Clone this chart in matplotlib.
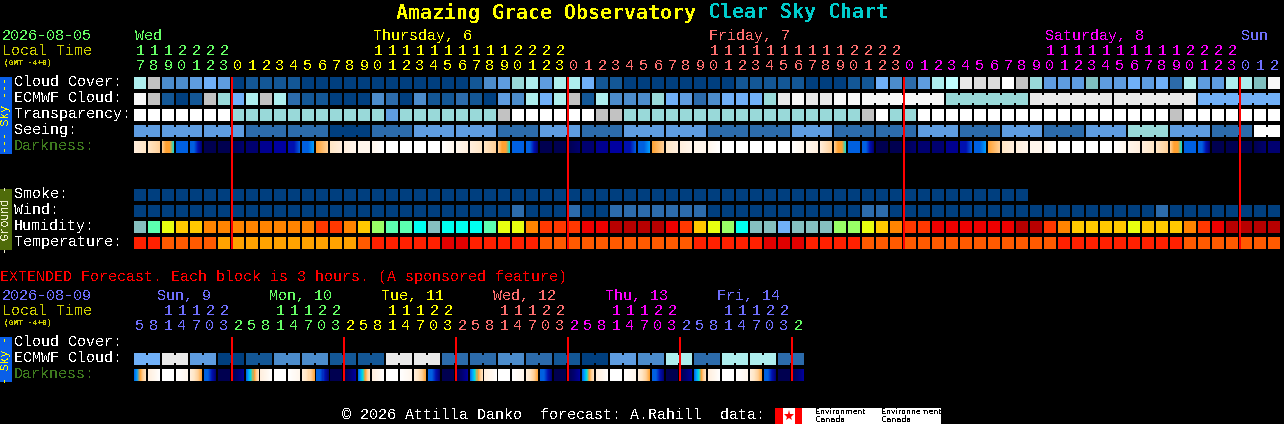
import numpy as np
import matplotlib
matplotlib.use("Agg")
import matplotlib.pyplot as plt
from matplotlib.colors import to_rgb

plt.rcParams["text.antialiased"] = False
plt.rcParams["text.hinting"] = "native"

W, H = 1284, 424
PITCH, CELL, ROW_PX = 14, 12, 16

# ---- colour scales ----
sky_palette = ["#003F7F", "#135796", "#2C6BAB", "#4C8CCB", "#5E9CE0", "#70B0F8", "#7FBFBF", "#99D9D9",
               "#AEEEEE", "#BFFFFF", "#E9E9E9", "#F8F8F8", "#FFFFFF", "#C2C2C2", "#DCDCDC"]
hum_palette = ["#85BFBF", "#5CFFB0", "#E8FF10", "#FFC800", "#FF8400", "#FF3800", "#EE0000", "#B80000",
               "#99FF66", "#00FFF0", "#70B0F8"]
temp_palette = ["#E00000", "#FF2000", "#FF5A00", "#FFA200"]
dark_palette = ["#FFFFFF", "#FFF6EC", "#FFEEDD", "#FFE6C6", "#FFD098", "#FFA030", "#00E0E0", "#00A0FF",
                "#0060E0", "#0010B0", "#0000A0", "#000090", "#000070", "#000050"]

# ---- hourly forecast, one value per hour from 17:00 ----
cloud = [8,13,3,3,4,5,4,0,1,1,1,1,0,0,0,0,0,0,0,0,0,0,0,0,1,3,4,7,8,4,8,8,5,1,1,0,0,0,0,0,0,0,0,1,1,1,1,1,0,0,0,1,
         1,5,3,2,4,8,9,10,14,14,12,13,7,4,4,4,6,4,4,5,4,5,2,8,4,4,8,8,6,11]
ecmwf = [11,13,1,0,1,13,7,5,8,13,8,2,1,1,0,0,0,3,2,0,3,1,1,2,1,0,4,3,8,5,8,13,1,8,3,3,3,7,5,4,2,3,5,5,5,7,10,11,10,10,11,11,
         11,11,11,11,11,11,7,7,7,7,7,7,10,10,10,10,10,10,10,10,10,10,10,10,5,5,5,5,5,5]
ecmwf_groups = [1]*52 + [6, 6, 6, 6, 6]
transparency = [12,12,12,12,12,12,12,7,7,7,7,7,7,7,7,7,7,7,4,7,7,7,7,7,7,7,13,12,12,12,12,12,12,13,13,
                7,7,7,7,7,7,7,7,7,7,7,7,7,7,7,7,7,13,12,7,7,12,12,12,12,12,12,12,12,12,12,12,12,12,12,12,12,12,12,13,
                12,12,12,12,12,12,12]
seeing = [4,4,4,4,4,4,4,4,2,2,2,2,2,2,0,0,0,2,2,2,4,4,4,4,4,4,2,2,2,4,4,4,2,2,2,4,4,4,4,4,4,2,2,2,2,2,2,4,4,4,2,2,
          2,2,2,2,4,4,4,2,2,2,4,4,4,2,2,2,4,4,4,7,7,7,4,4,4,2,2,2,12,12]
seeing_groups = [2] + [3]*26 + [2]
darkness = [[2,3],[3,4],[4,5,5,6],[8],[8,8,9,12],[13],[13],[13,12],[12],[11],[10],[9,9,8],[8,8,7],[5,4],[3,2],[2,1],[1],[1,0],
            [0],[0],[0],[0],[0,1],[1,2],[2,3],[3,4],[4,5,5,6],[8],[8,8,9,12],[13],[13],[13,12],[12],[11],[10],[9,9,8],[8,8,7],[5,4],[3,2],[2,1],[1],[1,0],
            [0],[0],[0],[0],[0],[0,1],[1,2],[2,4],[4,5,5,6],[8],[8,8,9,12],[13],[13],[13,12],[12],[12],[11],[9,9,8],[8,8,7],[5,4],[3,2],[2,1],[1],[1,0],
            [0],[0],[0],[0],[0,1],[1,2],[2,3],[3,4],[4,5,5,6],[8],[8,8,9,12],[13],[13],[13],[13,12],[12]]
smoke = [0]*64
wind = [0]*27 + [2] + [0]*3 + [2] + [0]*2 + [2]*7 + [0]*11 + [2]*2 + [0]*19 + [2] + [0]*8
humidity = [0,1,2,3,3,4,4,4,4,4,4,4,4,5,5,4,3,8,1,1,9,0,9,9,9,1,2,2,4,5,5,5,6,6,7,7,7,7,6,5,3,2,8,9,0,0,10,0,0,0,8,8,
            2,3,4,5,5,6,6,6,6,6,6,7,7,5,4,3,3,3,3,2,3,3,3,4,5,6,7,7,7,7]
temperature = [1,1,2,2,2,2,3,3,3,3,3,3,3,3,3,3,2,1,1,1,1,1,0,0,1,1,1,1,1,2,2,2,2,2,2,2,2,2,2,2,1,1,1,1,1,0,0,0,1,1,1,1,
               2,2,2,2,2,2,2,2,2,2,2,2,2,2,1,1,1,1,1,1,1,1,1,2,2,2,2,2,2,2]
hours = [17,18,19,20,21,22,23] + list(range(24)) + list(range(24)) + list(range(24)) + [0,1,2]
hour_colors = ["#66FF66"]*7 + ["#FFFF00"]*24 + ["#FF7070"]*24 + ["#FF00FF"]*24 + ["#7070FF"]*3
day_labels = ["Wed", "Thursday, 6", "Friday, 7", "Saturday, 8", "Sun"]
day_label_cols = [0, 17, 41, 65, 79]
day_label_colors = ["#66FF66", "#FFFF00", "#FF7070", "#FF00FF", "#7070FF"]
midnight_cols = [7, 31, 55, 79]

# ---- extended forecast, one value per 3-hour block ----
ext_ecmwf_pairs = [5,10,4,0,1,3,3,1,1,10,10,2,2,3,2,1,0,4,3,8,2,8,8,2]
ext_darkness = [[8,7,5,4,3],[2,1,0],[0],[0,1],[2,3,4,5],[8,8,9,12],[13],[13,12,10],
                [8,7,6,5,4,3],[2,1,0],[0],[0,1],[2,3,4,5],[8,8,9,12],[13],[13,12,10],
                [8,7,6,5,4,3],[2,1,0],[0],[0,1],[2,3,4,5],[8,8,9,12],[13],[13,12,10],
                [8,7,6,5,4,3],[2,1,0],[0],[0,1],[2,3,4,5],[8,8,9,12],[13],[13,12,10],
                [8,7,6,5,4,3],[2,1,0],[0],[0,1],[2,3,4,5],[8,8,9,12],[13],[13,12,10],
                [8,7,6,5,4,3],[2,1,0],[0],[0,1],[2,3,4,5],[8,8,9,12],[13],[13,12,10]]
ext_hours = [5,8,11,14,17,20,23] + [2,5,8,11,14,17,20,23]*5 + [2]
ext_colors = ["#7070FF"]*7 + ["#66FF66"]*8 + ["#FFFF00"]*8 + ["#FF7070"]*8 + ["#FF00FF"]*8 + ["#7070FF"]*8 + ["#66FF66"]
ext_day_labels = ["Sun, 9", "Mon, 10", "Tue, 11", "Wed, 12", "Thu, 13", "Fri, 14"]
ext_day_cols = [1.64, 9.64, 17.64, 25.64, 33.64, 41.64]
ext_day_colors = ["#7070FF", "#66FF66", "#FFFF00", "#FF7070", "#FF00FF", "#7070FF"]
ext_midnight_cols = [7, 15, 23, 31, 39, 47]

sky_labels = ["Cloud Cover:", "ECMWF Cloud:", "Transparency:", "Seeing:", "Darkness:"]
ground_labels = ["Smoke:", "Wind:", "Humidity:", "Temperature:"]

# ---- figure ----
fig = plt.figure(figsize=(W/100, H/100), dpi=100, facecolor="black")
def px_axes(left, top, width, height):
    a = fig.add_axes([left/W, 1-(top+height)/H, width/W, height/H], facecolor="none")
    a.set_axis_off()
    return a

CW, CH = CELL/PITCH, CELL/ROW_PX
BRIDGE_INSET = 2/ROW_PX

def cells(ax, row, values, palette):
    ax.bar(np.arange(len(values)), CH, width=CW, bottom=row, align="edge",
           color=[palette[v] for v in values], linewidth=0, antialiased=False, zorder=2)

def bridges(ax, row, values, palette, groups):
    start = 0
    for g in groups:
        for c in range(start, start+g-1):
            ax.bar(c+CW, CH-2*BRIDGE_INSET, width=1-CW, bottom=row+BRIDGE_INSET, align="edge",
                   color=palette[values[c]], linewidth=0, antialiased=False, zorder=2)
        start += g

def dark_row(ax, row, stops_list):
    for c, stops in enumerate(stops_list):
        rgb = np.array([to_rgb(dark_palette[s]) for s in stops])
        t = (np.arange(CELL)+0.5)/CELL
        xp = np.linspace(0, 1, len(stops))
        img = np.stack([np.interp(t, xp, rgb[:, k]) for k in range(3)], axis=1)[None, :, :]
        ax.imshow(img, extent=(c, c+CW, row+CH, row), aspect="auto", interpolation="nearest", zorder=2)

def red_lines(ax, cols, height):
    ax.bar(cols, height, width=2/PITCH, bottom=0, align="center", color="#FF0000",
           linewidth=0, antialiased=False, zorder=3)

# main panel
ax = px_axes(134, 77, PITCH*82, ROW_PX*11)
cells(ax, 0, cloud, sky_palette)
cells(ax, 1, ecmwf, sky_palette)
bridges(ax, 1, ecmwf, sky_palette, ecmwf_groups)
cells(ax, 2, transparency, sky_palette)
cells(ax, 3, seeing, sky_palette)
bridges(ax, 3, seeing, sky_palette, seeing_groups)
dark_row(ax, 4, darkness)
cells(ax, 7, smoke, sky_palette)
cells(ax, 8, wind, sky_palette)
cells(ax, 9, humidity, hum_palette)
cells(ax, 10, temperature, temp_palette)
red_lines(ax, midnight_cols, 10+CH)
ax.set_xlim(0, 82)
ax.set_ylim(11, 0)

# extended panel
ex = px_axes(134, 337, PITCH*48, ROW_PX*3)
ext_ecmwf = [v for v in ext_ecmwf_pairs for _ in range(2)]
cells(ex, 1, ext_ecmwf, sky_palette)
bridges(ex, 1, ext_ecmwf, sky_palette, [2]*24)
dark_row(ex, 2, ext_darkness)
red_lines(ex, ext_midnight_cols, 2+CH)
ex.set_xlim(0, 48)
ex.set_ylim(3, 0)

# text overlay, in pixels
tx = px_axes(0, 0, W, H)
tx.set_xlim(0, W)
tx.set_ylim(H, 0)
MONO = "Liberation Mono"
FS = 15*0.72
TEXT_DY = 1
def label(x, y, s, color="white", size=FS, **kw):
    kw.setdefault("family", MONO)
    tx.text(x, y+TEXT_DY, s, color=color, fontsize=size, va="center", ha=kw.pop("ha", "left"), **kw)

label(396, 12, "Amazing Grace Observatory", "#FFFF00", 14.35, family="DejaVu Sans Mono", fontweight="bold")
label(708, 12, "Clear Sky Chart", "#00CCCC", 14.35, family="DejaVu Sans Mono", fontweight="bold")

def time_block(date, date_color, y0):
    label(2, y0, date, date_color)
    label(2, y0+15, "Local Time", "#CCCC00")
    label(4, y0+27, "(GMT -4+0)", "#CCCC00", 5.8, fontweight="bold")

time_block("2026-08-05", "#66FF66", 35)
for s, c, col in zip(day_labels, day_label_colors, day_label_cols):
    label(135+PITCH*col, 35, s, c)
for i, (h, c) in enumerate(zip(hours, hour_colors)):
    xc = 134+PITCH*i+6
    if h >= 10:
        label(xc, 50, str(h//10), c, ha="center")
    label(xc, 65, str(h%10), c, ha="center")

for i, s in enumerate(sky_labels):
    label(14, 81+ROW_PX*i, s, "#3E7A1E" if s == "Darkness:" else "white")
for i, s in enumerate(ground_labels):
    label(14, 193+ROW_PX*i, s)

label(0, 276, "EXTENDED Forecast. Each block is 3 hours. (A sponsored feature)", "#FF0000")
time_block("2026-08-09", "#7070FF", 295)
for s, c, col in zip(ext_day_labels, ext_day_colors, ext_day_cols):
    label(134+PITCH*col, 295, s, c)
for i, (h, c) in enumerate(zip(ext_hours, ext_colors)):
    xc = 134+PITCH*i+6
    if h >= 10:
        label(xc, 310, str(h//10), c, ha="center")
    label(xc, 325, str(h%10), c, ha="center")
for i, s in enumerate(["Cloud Cover:", "ECMWF Cloud:", "Darkness:"]):
    label(14, 341+ROW_PX*i, s, "#3E7A1E" if s == "Darkness:" else "white")

# side tags
def tag(top, bottom, face, s, color):
    tx.fill_between([0, 12], top, bottom, color=face, linewidth=0, antialiased=False, zorder=2)
    tx.text(6, (top+bottom)/2, s, color=color, fontsize=8.3, family=MONO, rotation=90,
            ha="center", va="center", zorder=3)
tag(77, 154, "#0A5FE8", "--- Sky ---", "#FFFF00")
tag(189, 250, "#4F6B0A", "- Ground -", "#F0F0D0")
tag(337, 382, "#0A5FE8", "- Sky -", "#FFFF00")

# footer
label(342, 414, "\u00a9 2026 Attilla Danko  forecast: A.Rahill  data:", "white")
tx.fill_between([775, 941], 408, 424, color="white", linewidth=0, antialiased=False, zorder=2)
tx.fill_between([775, 783], 408, 424, color="#FF0000", linewidth=0, antialiased=False, zorder=3)
tx.fill_between([795, 802], 408, 424, color="#FF0000", linewidth=0, antialiased=False, zorder=3)
tx.plot([789], [416], marker="*", color="#FF0000", markersize=8, markeredgewidth=0, zorder=3)
for x, a, b in [(815, "Environment", "Canada"), (881, "Environnement", "Canada")]:
    tx.text(x, 412, a, color="black", fontsize=5.7, family="DejaVu Sans", va="center", zorder=3)
    tx.text(x, 420, b, color="black", fontsize=5.7, family="DejaVu Sans", va="center", zorder=3)
tx.set_xlim(0, W)
tx.set_ylim(H, 0)

fig.savefig("out.png", dpi=100, facecolor="black")
